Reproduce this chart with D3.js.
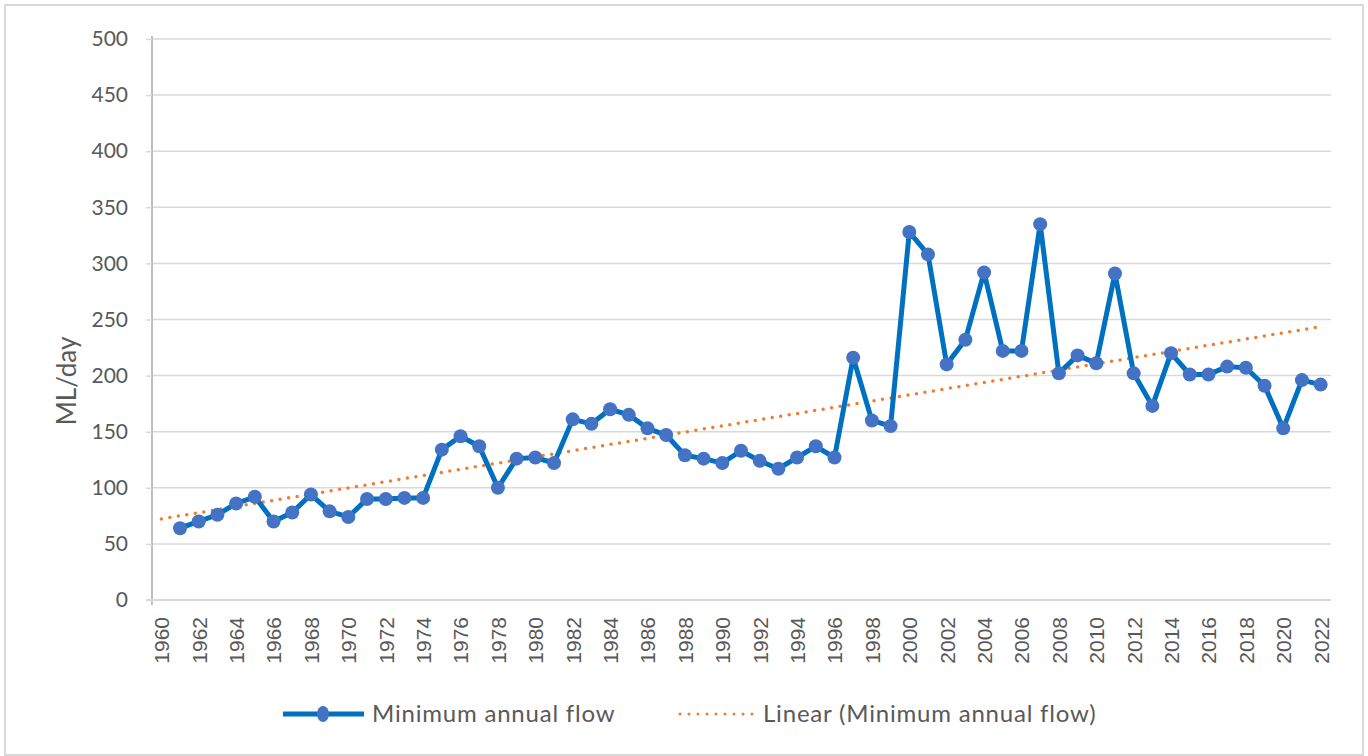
<!DOCTYPE html>
<html>
<head>
<meta charset="utf-8">
<script src="https://cdn.jsdelivr.net/npm/d3@7"></script>
<style>
  body { margin: 0; background: #fff; }
  svg { display: block; }
  .grid line { stroke: #d9d9d9; stroke-width: 1.5; }
  .y-axis text { font-family: Lato, sans-serif; font-size: 21px; fill: #595959; }
  .x-axis text { font-family: "Liberation Sans", Arial, sans-serif; font-size: 21px; fill: #595959; }
  .legend text { font-family: Lato, sans-serif; font-size: 24px; letter-spacing: 0.8px; fill: #595959; }
</style>
</head>
<body>
<svg id="chart" width="1368" height="756"></svg>
<script>
// years with a value (1960 is an empty category)
const categories = d3.range(1960, 2023);
const years = d3.range(1961, 2023);
const minFlow = [
  64, 70, 76, 86, 92, 70, 78, 94, 79, 74,
  90, 90, 91, 91, 134, 146, 137, 100, 126, 127,
  122, 161, 157, 170, 165, 153, 147, 129, 126, 122,
  133, 124, 117, 127, 137, 127, 216, 160, 155, 328,
  308, 210, 232, 292, 222, 222, 335, 202, 218, 211,
  291, 202, 173, 220, 201, 201, 208, 207, 191, 153,
  196, 192
];
const yTicks = [0, 50, 100, 150, 200, 250, 300, 350, 400, 450, 500];
const xTicks = d3.range(1960, 2023, 2);

const data = years.map((y, i) => ({ year: y, value: minFlow[i] }));

const svg = d3.select("#chart");

// outer border
svg.append("rect")
    .attr("x", 5).attr("y", 5)
    .attr("width", 1358).attr("height", 750)
    .attr("fill", "none")
    .attr("stroke", "#d9d9d9")
    .attr("stroke-width", 2);

const x = d3.scalePoint()
    .domain(categories)
    .range([152, 1330])
    .padding(0.5);

const y = d3.scaleLinear()
    .domain([0, 500])
    .range([600, 39]);

// gridlines
svg.append("g")
    .attr("class", "grid")
    .selectAll("line")
    .data(yTicks.slice(1))
    .enter().append("line")
    .attr("x1", 152).attr("x2", 1331)
    .attr("y1", d => y(d)).attr("y2", d => y(d));

// y axis
const yAxis = svg.append("g")
    .attr("class", "y-axis")
    .attr("transform", "translate(152,0)")
    .call(d3.axisLeft(y).tickValues(yTicks).tickSize(6).tickPadding(18));
yAxis.select(".domain").attr("stroke", "#bfbfbf").attr("stroke-width", 2)
    .attr("d", "M0,36V605");
yAxis.selectAll(".tick line").attr("stroke", "#d9d9d9").attr("stroke-width", 1.5);

// x axis
const xAxis = svg.append("g")
    .attr("class", "x-axis")
    .attr("transform", "translate(0,600)")
    .call(d3.axisBottom(x).tickValues(xTicks).tickSize(0));
xAxis.select(".domain").attr("stroke", "#d9d9d9").attr("stroke-width", 2)
    .attr("d", "M146,0H1331");
xAxis.selectAll(".tick text")
    .attr("transform", "rotate(-90)")
    .attr("text-anchor", "end")
    .attr("x", -17)
    .attr("y", 0)
    .attr("dy", "0.35em");

// axis title
svg.append("text")
    .attr("transform", "translate(67,381) rotate(-90)")
    .attr("text-anchor", "middle")
    .attr("dy", "0.35em")
    .attr("font-family", "Lato, sans-serif")
    .attr("font-size", 26)
    .attr("fill", "#595959")
    .text("ML/day");

// linear trend (least squares on year)
const xm = d3.mean(data, d => d.year);
const ym = d3.mean(data, d => d.value);
const slope = d3.sum(data, d => (d.year - xm) * (d.value - ym)) /
    d3.sum(data, d => (d.year - xm) ** 2);
const trend = [1960, 2022].map(yr => ({ year: yr, value: ym + slope * (yr - xm) }));

const line = d3.line()
    .x(d => x(d.year))
    .y(d => y(d.value));

svg.append("path")
    .datum(trend)
    .attr("d", line)
    .attr("fill", "none")
    .attr("stroke", "#ed7d31")
    .attr("stroke-width", 3.5)
    .attr("stroke-linecap", "round")
    .attr("stroke-dasharray", "0,8.6");

// series
svg.append("path")
    .datum(data)
    .attr("d", line)
    .attr("fill", "none")
    .attr("stroke", "#0070c0")
    .attr("stroke-width", 5)
    .attr("stroke-linejoin", "round");

svg.selectAll(".pt")
    .data(data)
    .enter().append("circle")
    .attr("class", "pt")
    .attr("cx", d => x(d.year))
    .attr("cy", d => y(d.value))
    .attr("r", 7)
    .attr("fill", "#4472c4");

// legend
const legend = svg.append("g").attr("class", "legend");
legend.append("line")
    .attr("x1", 283).attr("x2", 364).attr("y1", 714).attr("y2", 714)
    .attr("stroke", "#0070c0").attr("stroke-width", 5);
legend.append("ellipse")
    .attr("cx", 323).attr("cy", 714).attr("rx", 6).attr("ry", 8)
    .attr("fill", "#4472c4");
legend.append("text")
    .attr("x", 372).attr("y", 714).attr("dy", "0.35em")
    .text("Minimum annual flow");
legend.append("line")
    .attr("x1", 680).attr("x2", 753).attr("y1", 714).attr("y2", 714)
    .attr("stroke", "#ed7d31").attr("stroke-width", 3)
    .attr("stroke-linecap", "round")
    .attr("stroke-dasharray", "0,9");
legend.append("text")
    .attr("x", 763).attr("y", 714).attr("dy", "0.35em")
    .text("Linear (Minimum annual flow)");
</script>
</body>
</html>
